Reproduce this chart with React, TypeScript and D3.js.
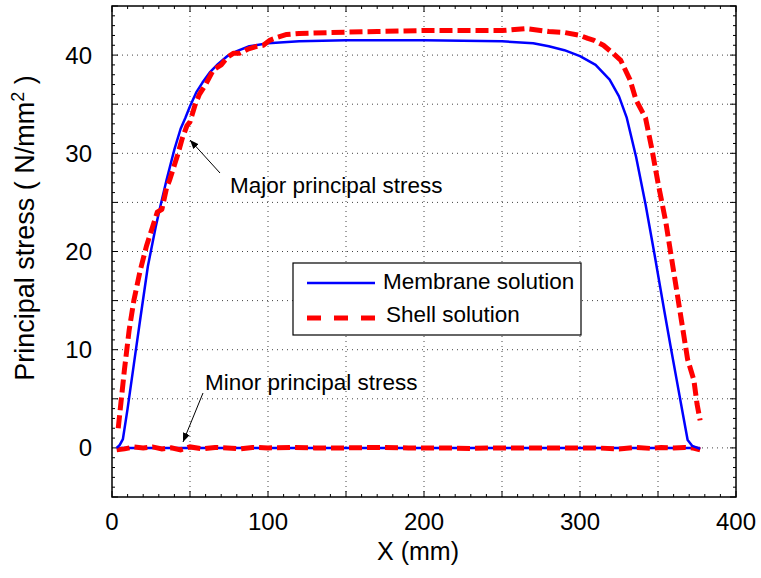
import React from "react";
import * as d3 from "d3";

const membraneX = [3, 5, 7, 10, 14, 18, 23, 28, 31, 35, 40, 44, 47, 50, 54, 58, 63, 68, 74, 80, 88, 100, 120, 150, 200, 250, 270, 280, 290, 300, 310, 319, 325, 330, 336, 342, 348, 354, 358, 362, 366, 369, 372, 377];
const membraneY = [0, 0.3, 0.9, 4, 8.5, 13, 18.5, 22.5, 24.6, 27.3, 30.4, 32.5, 33.6, 34.8, 36.2, 37.2, 38.3, 39.1, 39.9, 40.4, 40.9, 41.2, 41.4, 41.5, 41.5, 41.4, 41.2, 40.9, 40.5, 39.9, 39.0, 37.5, 35.8, 33.6, 29.6, 24.8, 19.5, 14, 10.4, 6.9, 3.4, 0.8, 0.2, -0.1];

const shellX = [4, 6, 8, 11, 14, 18, 22, 26, 29, 32, 35, 37, 40, 42, 45, 48, 50, 53, 56, 60, 65, 70, 74, 78, 82, 87, 93, 97, 101, 106, 112, 120, 140, 170, 200, 230, 250, 265, 280, 290, 300, 305, 309, 315, 321, 326, 332, 336, 342, 346, 350, 355, 360, 365, 369, 373, 375, 377];
const shellY = [2, 5, 8, 12, 15, 18, 20.5, 22.5, 24, 24.3, 26.5, 27.3, 28.8, 29.8, 31.5, 32.8, 33.2, 34.8, 36, 37, 38.5, 39, 39.8, 40.2, 40.2, 40.6, 40.9, 41, 41.5, 41.8, 42.1, 42.2, 42.3, 42.4, 42.5, 42.5, 42.5, 42.7, 42.4, 42.3, 42.0, 41.7, 41.5, 41.0, 40.2, 39.5, 37.5, 35.4, 33.6, 30.5, 27, 23, 18, 13, 9, 6.9, 4.5, 2.8];

const minorBX = [3, 50, 100, 150, 200, 250, 300, 350, 370, 377];
const minorBY = [0, 0, 0, 0, 0, 0, 0, 0, 0, 0];

const minorSX = [3, 8, 14, 20, 26, 32, 38, 44, 50, 58, 66, 74, 82, 90, 100, 115, 130, 150, 170, 190, 210, 230, 250, 270, 290, 310, 325, 335, 345, 352, 360, 367, 372, 377];
const minorSY = [-0.2, -0.1, 0.1, 0, 0.1, -0.1, 0, -0.2, 0.1, -0.1, 0.05, 0, -0.1, 0.05, 0, 0.05, 0, 0, 0.05, 0, 0, -0.05, 0, 0, 0, 0, -0.1, 0.05, -0.05, 0.05, 0, 0.05, 0, -0.2];

const xTicks = [0, 100, 200, 300, 400];
const yTicks = [0, 10, 20, 30, 40];

const W = 761, H = 578;
const left = 112, right = 736, top = 6, bottom = 497;
const FONT = "'Liberation Sans', Arial, Helvetica, sans-serif";

export default function App() {
  const x = d3.scaleLinear().domain([0, 400]).range([left, right]);
  const y = d3.scaleLinear().domain([-5, 45]).range([bottom, top]);
  const line = (xs: number[], ys: number[]) =>
    d3.line<number>().x((_, i) => x(xs[i])).y((_, i) => y(ys[i]))(xs.map((_, i) => i)) || "";

  const xGrid = d3.range(0, 401, 50);
  const yGrid = d3.range(-5, 46, 5);
  const xMinor = d3.range(0, 401, 10);
  const yMinor = d3.range(-5, 46, 1);

  const gridStyle = { stroke: "#444", strokeWidth: 1, strokeDasharray: "1,4" };

  return (
    <svg width={W} height={H} style={{ position: "absolute", left: 0, top: 0, background: "#fff" }}>
      <rect x={0} y={0} width={W} height={H} fill="#fff" />
      {xGrid.slice(1, -1).map((v) => (
        <line key={"gx" + v} x1={x(v)} x2={x(v)} y1={top} y2={bottom} {...gridStyle} />
      ))}
      {yGrid.slice(1, -1).map((v) => (
        <line key={"gy" + v} x1={left} x2={right} y1={y(v)} y2={y(v)} {...gridStyle} />
      ))}
      {xMinor.map((v) => (
        <g key={"xm" + v}>
          <line x1={x(v)} x2={x(v)} y1={bottom} y2={bottom - (v % 50 === 0 ? 6 : 3)} stroke="#000" strokeWidth={1} />
          <line x1={x(v)} x2={x(v)} y1={top} y2={top + (v % 50 === 0 ? 6 : 3)} stroke="#000" strokeWidth={1} />
        </g>
      ))}
      {yMinor.map((v) => (
        <g key={"ym" + v}>
          <line x1={left} x2={left + (v % 5 === 0 ? 6 : 3)} y1={y(v)} y2={y(v)} stroke="#000" strokeWidth={1} />
          <line x1={right} x2={right - (v % 5 === 0 ? 6 : 3)} y1={y(v)} y2={y(v)} stroke="#000" strokeWidth={1} />
        </g>
      ))}
      <rect x={left} y={top} width={right - left} height={bottom - top} fill="none" stroke="#000" strokeWidth={1.5} />

      <path d={line(minorBX, minorBY)} fill="none" stroke="#0000ff" strokeWidth={2.5} />
      <path d={line(minorSX, minorSY)} fill="none" stroke="#ff0000" strokeWidth={5} strokeDasharray="13,5" />
      <path d={line(membraneX, membraneY)} fill="none" stroke="#0000ff" strokeWidth={2.5} strokeLinejoin="round" />
      <path d={line(shellX, shellY)} fill="none" stroke="#ff0000" strokeWidth={5} strokeDasharray="13,5" strokeLinejoin="round" />

      {xTicks.map((v) => (
        <text key={"xt" + v} x={x(v)} y={530} textAnchor="middle" fontFamily={FONT} fontSize={24} fill="#000">{v}</text>
      ))}
      {yTicks.map((v) => (
        <text key={"yt" + v} x={92} y={y(v) + 8.5} textAnchor="end" fontFamily={FONT} fontSize={24} fill="#000">{v}</text>
      ))}
      <text x={418} y={560} textAnchor="middle" fontFamily={FONT} fontSize={25} fill="#000">X (mm)</text>
      <text transform="translate(34,228) rotate(-90)" textAnchor="middle" fontFamily={FONT} fontSize={27} fill="#000">
        Principal stress ( N/mm<tspan dy={-10} fontSize={18}>2</tspan><tspan dy={10}> )</tspan>
      </text>

      <rect x={293} y={263} width={288} height={72} fill="#fff" stroke="#000" strokeWidth={1.2} />
      <line x1={307} x2={375} y1={283} y2={283} stroke="#0000ff" strokeWidth={2.5} />
      <line x1={307} x2={375} y1={318} y2={318} stroke="#ff0000" strokeWidth={5} strokeDasharray="14,13" />
      <text x={383} y={289} fontFamily={FONT} fontSize={22.5} fill="#000">Membrane solution</text>
      <text x={386} y={322} fontFamily={FONT} fontSize={22.5} fill="#000">Shell solution</text>

      <defs>
        <marker id="ah" viewBox="0 0 10 10" refX={10} refY={5} markerWidth={9} markerHeight={9} orient="auto" markerUnits="userSpaceOnUse">
          <path d="M0,1 L10,5 L0,9 Z" fill="#000" />
        </marker>
      </defs>
      <line x1={220} x2={190} y1={173} y2={140} stroke="#000" strokeWidth={1} markerEnd="url(#ah)" />
      <text x={230} y={193} fontFamily={FONT} fontSize={22.5} fill="#000">Major principal stress</text>
      <line x1={203} x2={183} y1={393} y2={442} stroke="#000" strokeWidth={1} markerEnd="url(#ah)" />
      <text x={205} y={390} fontFamily={FONT} fontSize={22.5} fill="#000">Minor principal stress</text>
    </svg>
  );
}
